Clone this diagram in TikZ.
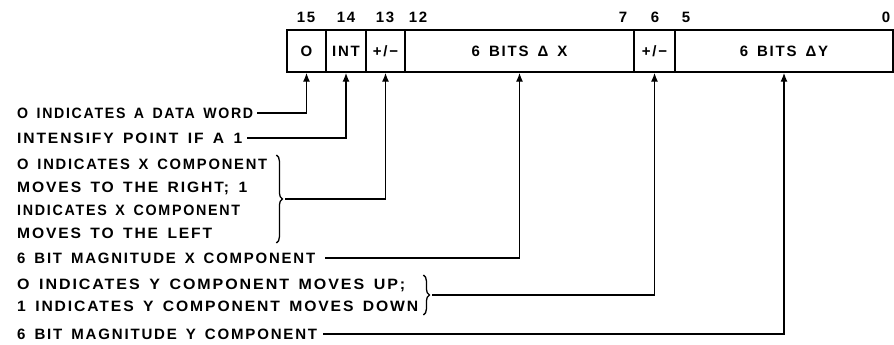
\documentclass[tikz,border=0pt]{standalone}
\usepackage{fontspec}
\usepackage{graphicx}
\newfontfamily\labfont{Liberation Sans}[LetterSpace=12,WordSpace=1.5]
\newcommand\fitw[2]{\resizebox{#1pt}{\height}{#2}}
\usetikzlibrary{arrows.meta,decorations.pathreplacing,calc}
\tikzset{
  txtfont/.style={font=\labfont\bfseries\fontsize{15}{23}\selectfont},
  lab/.style={txtfont, inner sep=0pt, anchor=west, text height=10.7pt, text depth=0pt},
  cell/.style={txtfont, draw, line width=1.4pt, minimum height=42pt, inner sep=0pt, text height=10.7pt, text depth=0pt},
  bitno/.style={txtfont, inner sep=0pt, text height=10.7pt, text depth=0pt},
  conn/.style={line width=1.4pt, -{Latex[length=9pt,width=7pt]}},
  brc/.style={decorate, decoration={brace, amplitude=6pt}, line width=1.3pt}
}
\begin{document}
\begin{tikzpicture}[x=1pt,y=-1pt]
\useasboundingbox (0,0) rectangle (894,345);
% register cells
\node[cell, minimum width=39pt] (c0) at (306.5,51) {O};
\node[cell, minimum width=40pt] (c1) at (346,51) {INT};
\node[cell, minimum width=39pt] (c2) at (385.5,51) {+/−};
\node[cell, minimum width=229pt] (c3) at (519.5,51) {6 BITS Δ X};
\node[cell, minimum width=41pt] (c4) at (654.5,51) {+/−};
\node[cell, minimum width=218pt] (c5) at (784,51) {6 BITS ΔY};
% bit numbers
\node[bitno] (b15) at (306,17) {15};
\node[bitno] (b14) at (346,17) {14};
\node[bitno] (b13) at (385,17) {13};
\node[bitno] (b12) at (418,17) {12};
\node[bitno] (b7) at (623,17) {7};
\node[bitno] (b6) at (655,17) {6};
\node[bitno] (b5) at (686,17) {5};
\node[bitno] (b0) at (886,17) {0};
% descriptions
\node[lab] (t1) at (17,113) {\fitw{236}{O INDICATES A DATA WORD}};
\node[lab] (t2) at (17,138) {\fitw{225}{INTENSIFY POINT IF A 1}};
\node[lab] (t3a) at (17,164) {\fitw{250}{O INDICATES X COMPONENT}};
\node[lab] (t3b) at (17,187) {\fitw{230}{MOVES TO THE RIGHT; 1}};
\node[lab] (t3c) at (17,210) {\fitw{223}{INDICATES X COMPONENT}};
\node[lab] (t3d) at (17,233) {\fitw{195}{MOVES TO THE LEFT}};
\node[lab] (t4) at (17,258) {\fitw{298}{6 BIT MAGNITUDE X COMPONENT}};
\node[lab] (t5a) at (17,284) {\fitw{388}{O INDICATES Y COMPONENT MOVES UP;}};
\node[lab] (t5b) at (17,306) {\fitw{401}{1 INDICATES Y COMPONENT MOVES DOWN}};
\node[lab] (t6) at (17,334) {\fitw{300}{6 BIT MAGNITUDE Y COMPONENT}};
% braces
\coordinate (xA) at ([xshift=9pt]t3a.east |- 0,155);
\coordinate (xB) at ([xshift=9pt]t3a.east |- 0,243);
\draw[brc] (xA) -- (xB);
\coordinate (xtip) at ([xshift=9pt]xA |- 0,199);
\coordinate (yA) at ([xshift=5pt]t5b.east |- 0,275);
\coordinate (yB) at ([xshift=5pt]t5b.east |- 0,315);
\draw[brc] (yA) -- (yB);
\coordinate (ytip) at ([xshift=9pt]yA |- 0,295);
% connectors
\draw[conn] ([xshift=4pt]t1.east) -| (c0.south);
\draw[conn] ([xshift=5pt]t2.east) -| (c1.south);
\draw[conn] (xtip) -| (c2.south);
\draw[conn] ([xshift=10pt]t4.east) -| (c3.south);
\draw[conn] (ytip) -| (c4.south);
\draw[conn] ([xshift=6pt]t6.east) -| (c5.south);
\end{tikzpicture}
\end{document}
